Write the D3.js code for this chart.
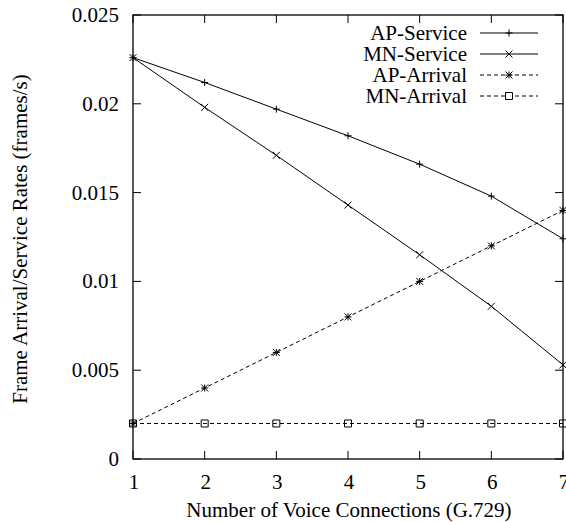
<!DOCTYPE html>
<html>
<head>
<meta charset="utf-8">
<script src="https://cdn.jsdelivr.net/npm/d3@7"></script>
<style>
  body { margin: 0; background: #fff; }
  svg { display: block; }
  text { font-family: "Liberation Serif", "Times New Roman", serif; fill: #000; }
</style>
</head>
<body>
<div class="chart"></div>
<script>
// data
var connections = [1, 2, 3, 4, 5, 6, 7]
var apService = [0.0226, 0.0212, 0.0197, 0.0182, 0.0166, 0.0148, 0.0124]
var mnService = [0.0226, 0.0198, 0.0171, 0.0143, 0.0115, 0.0086, 0.0053]
var apArrival = [0.002, 0.004, 0.006, 0.008, 0.010, 0.012, 0.014]
var mnArrival = [0.002, 0.002, 0.002, 0.002, 0.002, 0.002, 0.002]
var yTicks = [0, 0.005, 0.01, 0.015, 0.02, 0.025]
var yTickLabels = ["0", "0.005", "0.01", "0.015", "0.02", "0.025"]

var series = [
  { name: "AP-Service", values: apService, dash: null, mark: "plus" },
  { name: "MN-Service", values: mnService, dash: null, mark: "cross" },
  { name: "AP-Arrival", values: apArrival, dash: "4,3", mark: "star" },
  { name: "MN-Arrival", values: mnArrival, dash: "4,3", mark: "box" }
]

var width = 566
var height = 522
var margin = { top: 15, right: 3, bottom: 63, left: 133 }
var fontSize = 21

let svg = d3.select(".chart").append("svg")
  .attr("width", width)
  .attr("height", height)

let x = d3.scaleLinear()
  .domain([1, 7])
  .range([margin.left, width - margin.right])

let y = d3.scaleLinear()
  .domain([0, 0.025])
  .range([height - margin.bottom, margin.top])

let plot = svg.append("g")

// ticks, gnuplot style: inward on all four sides
let tickLen = 8
connections.forEach(function (c) {
  plot.append("line").attr("x1", x(c)).attr("x2", x(c))
    .attr("y1", y(0)).attr("y2", y(0) - tickLen).attr("stroke", "#000")
  plot.append("line").attr("x1", x(c)).attr("x2", x(c))
    .attr("y1", y(0.025)).attr("y2", y(0.025) + tickLen).attr("stroke", "#000")
  plot.append("text").attr("x", x(c) + 1).attr("y", y(0) + 30)
    .attr("text-anchor", "middle").attr("font-size", fontSize).text(c)
})
yTicks.forEach(function (t, i) {
  plot.append("line").attr("x1", x(1)).attr("x2", x(1) + tickLen)
    .attr("y1", y(t)).attr("y2", y(t)).attr("stroke", "#000")
  plot.append("line").attr("x1", x(7)).attr("x2", x(7) - tickLen)
    .attr("y1", y(t)).attr("y2", y(t)).attr("stroke", "#000")
  plot.append("text").attr("x", x(1) - 14).attr("y", y(t) + 7)
    .attr("text-anchor", "end").attr("font-size", fontSize).text(yTickLabels[i])
})

// frame
plot.append("rect")
  .attr("x", x(1)).attr("y", y(0.025))
  .attr("width", x(7) - x(1)).attr("height", y(0) - y(0.025))
  .attr("fill", "none").attr("stroke", "#000").attr("stroke-width", 1.3)

// marker paths
function markPath(kind, cx, cy) {
  let s = 3.5
  if (kind == "plus")
    return "M" + (cx - s) + "," + cy + "H" + (cx + s) + "M" + cx + "," + (cy - s) + "V" + (cy + s)
  if (kind == "cross")
    return "M" + (cx - s) + "," + (cy - s) + "L" + (cx + s) + "," + (cy + s) +
      "M" + (cx - s) + "," + (cy + s) + "L" + (cx + s) + "," + (cy - s)
  if (kind == "star")
    return markPath("plus", cx, cy) + markPath("cross", cx, cy)
  return "M" + (cx - s) + "," + (cy - s) + "H" + (cx + s) + "V" + (cy + s) + "H" + (cx - s) + "Z"
}

let line = d3.line()
  .x((d, i) => x(connections[i]))
  .y(d => y(d))

series.forEach(function (s) {
  plot.append("path")
    .attr("d", line(s.values))
    .attr("fill", "none")
    .attr("stroke", "#000")
    .attr("stroke-width", 1)
    .attr("stroke-dasharray", s.dash)
  s.values.forEach(function (v, i) {
    plot.append("path")
      .attr("d", markPath(s.mark, x(connections[i]), y(v)))
      .attr("fill", "none").attr("stroke", "#000").attr("stroke-width", 1)
  })
})

// legend
let legend = svg.append("g")
series.forEach(function (s, i) {
  let ly = 33 + i * 21
  legend.append("text").attr("x", 467).attr("y", ly + 7)
    .attr("text-anchor", "end").attr("font-size", fontSize).text(s.name)
  legend.append("line").attr("x1", 480).attr("x2", 538)
    .attr("y1", ly).attr("y2", ly)
    .attr("stroke", "#000").attr("stroke-dasharray", s.dash)
  legend.append("path").attr("d", markPath(s.mark, 509, ly))
    .attr("fill", s.mark == "box" ? "#fff" : "none").attr("stroke", "#000")
})

// axis titles
svg.append("text")
  .attr("x", (x(1) + x(7)) / 2 + 1).attr("y", 517)
  .attr("text-anchor", "middle").attr("font-size", fontSize)
  .text("Number of Voice Connections (G.729)")

svg.append("text")
  .attr("transform", "translate(27," + ((y(0) + y(0.025)) / 2 + 2) + ") rotate(-90)")
  .attr("text-anchor", "middle").attr("font-size", fontSize)
  .text("Frame Arrival/Service Rates (frames/s)")
</script>
</body>
</html>
